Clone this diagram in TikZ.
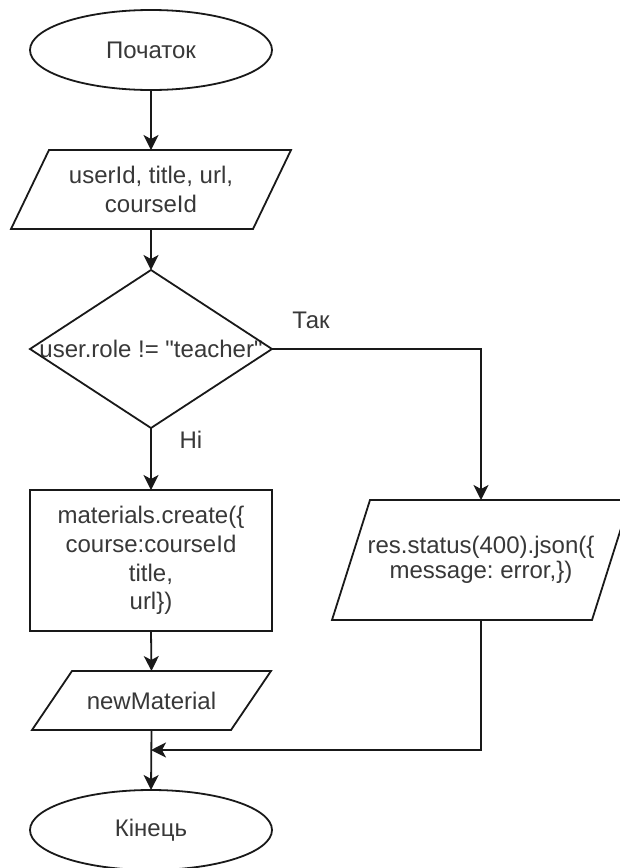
\documentclass[tikz,border=0pt]{standalone}
\usepackage{fontspec}
\setmainfont{Liberation Sans}
\usetikzlibrary{shapes.geometric,arrows.meta}
\frenchspacing
\begin{document}
\begin{tikzpicture}[x=1pt,y=-1pt,
  every node/.style={font=\fontsize{24}{28.8}\selectfont, text=black!78,
    align=center, inner sep=0pt, outer sep=0pt},
  line/.style={line width=1.8pt, draw=black!90},
  flow/.style={line, -{Stealth[length=15pt,width=15pt,inset=4pt]}},
  term/.style={ellipse, line, minimum width=242pt, minimum height=80pt},
  procbox/.style={rectangle, line, minimum width=242pt, minimum height=141pt},
]
\useasboundingbox (0,0) rectangle (620,868);
\fill[white] (0,0) rectangle (620,868);

% start / end terminals
\node[term] (start) at (151,50) {Початок};
\node[term] (stop) at (151,830) {Кінець};

% input parameters
\node[minimum width=280pt, minimum height=79pt] (in1) at (151,189.5)
  {userId, title, url,\\courseId};
\draw[line] ([xshift=38pt]in1.north west) -- (in1.north east)
  -- ([xshift=-38pt]in1.south east) -- (in1.south west) -- cycle;

% role check
\node[minimum width=242pt, minimum height=158pt] (dec) at (151,349)
  {user.role != \textquotedbl teacher\textquotedbl};
\draw[line] (dec.north) -- (dec.east) -- (dec.south) -- (dec.west) -- cycle;

% create material
\node[procbox] (proc) at (151,560.5)
  {materials.create(\{\\course:courseId\\title,\\url\})};

% result
\node[minimum width=239pt, minimum height=59pt] (out1) at (151.5,700.5)
  {newMaterial};
\draw[line] ([xshift=40pt]out1.north west) -- (out1.north east)
  -- ([xshift=-40pt]out1.south east) -- (out1.south west) -- cycle;

% error response
\node[minimum width=298pt, minimum height=120pt] (err) at (481,560)
  {\raisebox{-6pt}{\shortstack{res.status(400).json(\{\\message: error,\})}}};
\draw[line] ([xshift=38pt]err.north west) -- (err.north east)
  -- ([xshift=-38pt]err.south east) -- (err.south west) -- cycle;

% branch labels
\node (yes) at (311,320) {Так};
\node (no) at (191,440) {Ні};

\coordinate (m) at (151,750);

% connectors
\draw[flow] (start.south) -- (in1.north);
\draw[flow] (in1.south) -- (dec.north);
\draw[flow] (dec.south) -- (proc.north);
\draw[flow] (proc.south) -- (out1.north);
\draw[flow] (out1.south) -- (stop.north);
\draw[flow] (dec.east) -| (err.north);
\draw[flow] (err.south) |- (m);
\end{tikzpicture}
\end{document}
